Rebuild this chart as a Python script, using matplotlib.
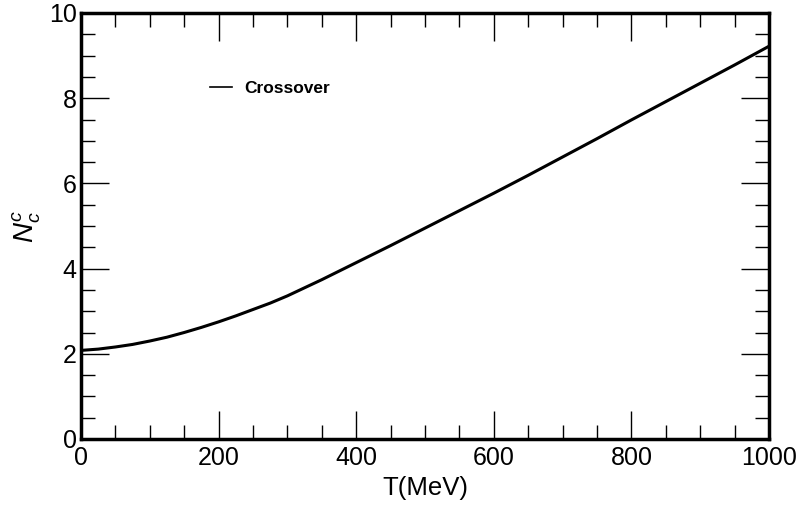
import numpy as np
import matplotlib.pyplot as plt
from matplotlib.ticker import MultipleLocator

plt.rcParams['font.family'] = ['Liberation Sans', 'DejaVu Sans']
plt.rcParams['mathtext.fontset'] = 'custom'
plt.rcParams['mathtext.it'] = 'Liberation Sans:italic'
plt.rcParams['mathtext.rm'] = 'Liberation Sans'

# N_c^c vs temperature, crossover case
T = [0, 25, 50, 75, 100, 125, 150, 175, 200, 225, 250, 275, 300, 325, 350,
     375, 400, 450, 500, 550, 600, 650, 700, 750, 800, 850, 900, 950, 1000]
Nc = [2.08, 2.11, 2.16, 2.22, 2.30, 2.39, 2.50, 2.62, 2.75, 2.89, 3.04, 3.19,
      3.36, 3.55, 3.74, 3.94, 4.14, 4.54, 4.95, 5.36, 5.77, 6.19, 6.62, 7.05,
      7.49, 7.92, 8.35, 8.78, 9.22]

fig = plt.figure(figsize=(8, 5.12), dpi=100)
ax = fig.add_axes([81/800, 1-439/512, (769-81)/800, (439-13)/512])

ax.plot(T, Nc, color='black', lw=2.2, label='Crossover')

ax.set_xlim(0, 1000)
ax.set_ylim(0, 10)
ax.xaxis.set_major_locator(MultipleLocator(200))
ax.xaxis.set_minor_locator(MultipleLocator(50))
ax.yaxis.set_major_locator(MultipleLocator(2))
ax.yaxis.set_minor_locator(MultipleLocator(0.5))
ax.tick_params(which='both', direction='in', top=True, right=True,
               labelsize=18, width=1)
ax.tick_params(which='major', length=20)
ax.tick_params(which='minor', length=10)
ax.tick_params(axis='x', pad=5)
ax.tick_params(axis='y', pad=3)
for s in ax.spines.values():
    s.set_linewidth(2.5)

ax.set_xlabel('T(MeV)', fontsize=18.5, labelpad=4)
ax.set_ylabel('$N_c^c$', fontsize=20, labelpad=4)

leg = ax.legend(loc='center left', bbox_to_anchor=(0.165, 0.822), frameon=False,
                handlelength=1.25, handletextpad=0.7,
                prop={'weight': 'bold', 'size': 12.5})
for h in leg.get_lines():
    h.set_linewidth(1.2)

fig.savefig('out.png', dpi=100)
